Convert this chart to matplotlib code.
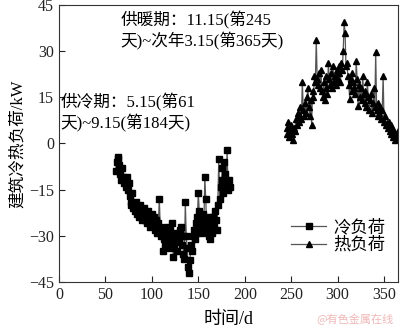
import numpy as np
import matplotlib
matplotlib.use("Agg")
import matplotlib.pyplot as plt

plt.rcParams['font.family'] = ['Liberation Serif', 'Noto Sans CJK SC']

# Cooling season: day 61 to day 184
cool_days = list(range(61, 185))
cool_load = [
    -9, -6, -4.5, -5, -7, -10, -12, -8, -11, -13,
    -12, -14, -11, -15, -13, -17, -20, -19, -16, -21,
    -20, -22, -19, -23, -21, -24, -20, -22, -25, -23,
    -24, -21, -25, -23, -26, -22, -24, -27, -25, -23,
    -26, -24, -28, -25, -27, -29, -26, -18, -27, -30,
    -28, -35, -31, -33, -29, -27, -32, -30, -34, -28,
    -31, -26, -37, -33, -29, -31, -35, -30, -32, -28,
    -27, -33, -30, -36, -37.5, -19, -30, -34, -40, -42,
    -38, -33, -35, -30, -28, -31, -26, -29, -24, -16,
    -22, -27, -25, -29, -23, -26, -11, -18, -27, -24,
    -30, -28, -31, -26, -29, -24, -27, -22, -25, -28,
    -20, -5, -18, -14, -12, -8, -16, -6, -10, -13,
    -2, -15, -12, -14,
]

# Heating season: day 245 to day 365
heat_days = list(range(245, 366))
heat_load = [
    5, 3, 7, 2, 4, 6, 3, 1, 5, 4,
    8, 6, 10, 7, 9, 12, 8, 20, 11, 9,
    13, 10, 15, 18, 12, 9, 14, 6, 17, 15,
    22, 20, 33.7, 21, 19, 23, 18, 24, 17, 15,
    20, 14, 18, 22, 16, 26, 21, 19, 23, 18,
    25, 20, 22, 19, 24, 21, 23, 25, 20, 26,
    24, 30, 39.4, 36, 25, 26, 22, 19, 14.6, 21,
    17, 23, 20, 18, 16, 26.7, 21, 12.3, 19, 15,
    18, 14, 22, 16, 13, 17, 12, 20, 15, 11,
    14, 16, 10, 13, 18, 12, 29.6, 11, 9, 13,
    10, 12, 8, 11, 22, 7, 9, 6, 6.5, 5,
    7, 4, 6, 3, 5, 2, 4, 1, 3, 2,
    4,
]

x_ticks = [0, 50, 100, 150, 200, 250, 300, 350]
y_ticks = [-45, -30, -15, 0, 15, 30, 45]

fig = plt.figure(figsize=(4.0, 3.29), dpi=100)
ax = fig.add_axes([0.1475, 0.143, 0.8475, 0.842])

line_col = '#555555'
ax.plot(cool_days, cool_load, color=line_col, lw=0.9, marker='s', ms=4.2,
        mfc='black', mec='black', label='冷负荷')
ax.plot(heat_days, heat_load, color=line_col, lw=0.9, marker='^', ms=5,
        mfc='black', mec='black', label='热负荷')

ax.set_xlim(0, 365)
ax.set_ylim(-45, 45)
ax.set_xticks(x_ticks)
ax.set_yticks(y_ticks)
ax.set_yticklabels(['\u221245', '\u221230', '\u221215', '0', '15', '30', '45'])
ax.tick_params(direction='in', length=4, width=0.8, labelsize=11.5, colors='#222222')
for s in ax.spines.values():
    s.set_linewidth(0.8)
    s.set_color('#333333')

ax.set_xlabel('时间/d', fontsize=13, labelpad=6)
ax.set_ylabel('建筑冷热负荷/kW', fontsize=12, labelpad=2)

ax.text(66, 42.8, '供暖期：11.15(第245\n天)~次年3.15(第365天)', fontsize=12,
        va='top', ha='left', linespacing=1.2)
ax.text(1.5, 16.3, '供冷期：5.15(第61\n天)~9.15(第184天)', fontsize=12,
        va='top', ha='left', linespacing=1.2)

leg = ax.legend(loc='upper left', bbox_to_anchor=(0.665, 0.25), frameon=False,
                fontsize=12.5, handlelength=2.0, handletextpad=0.4,
                labelspacing=0.05, borderaxespad=0)

fig.text(0.985, 0.012, '@有色金属在线', color='#f0b8b8', fontsize=8,
         ha='right', va='bottom', family=['Noto Sans CJK SC'])

fig.savefig('out.png', dpi=100)
